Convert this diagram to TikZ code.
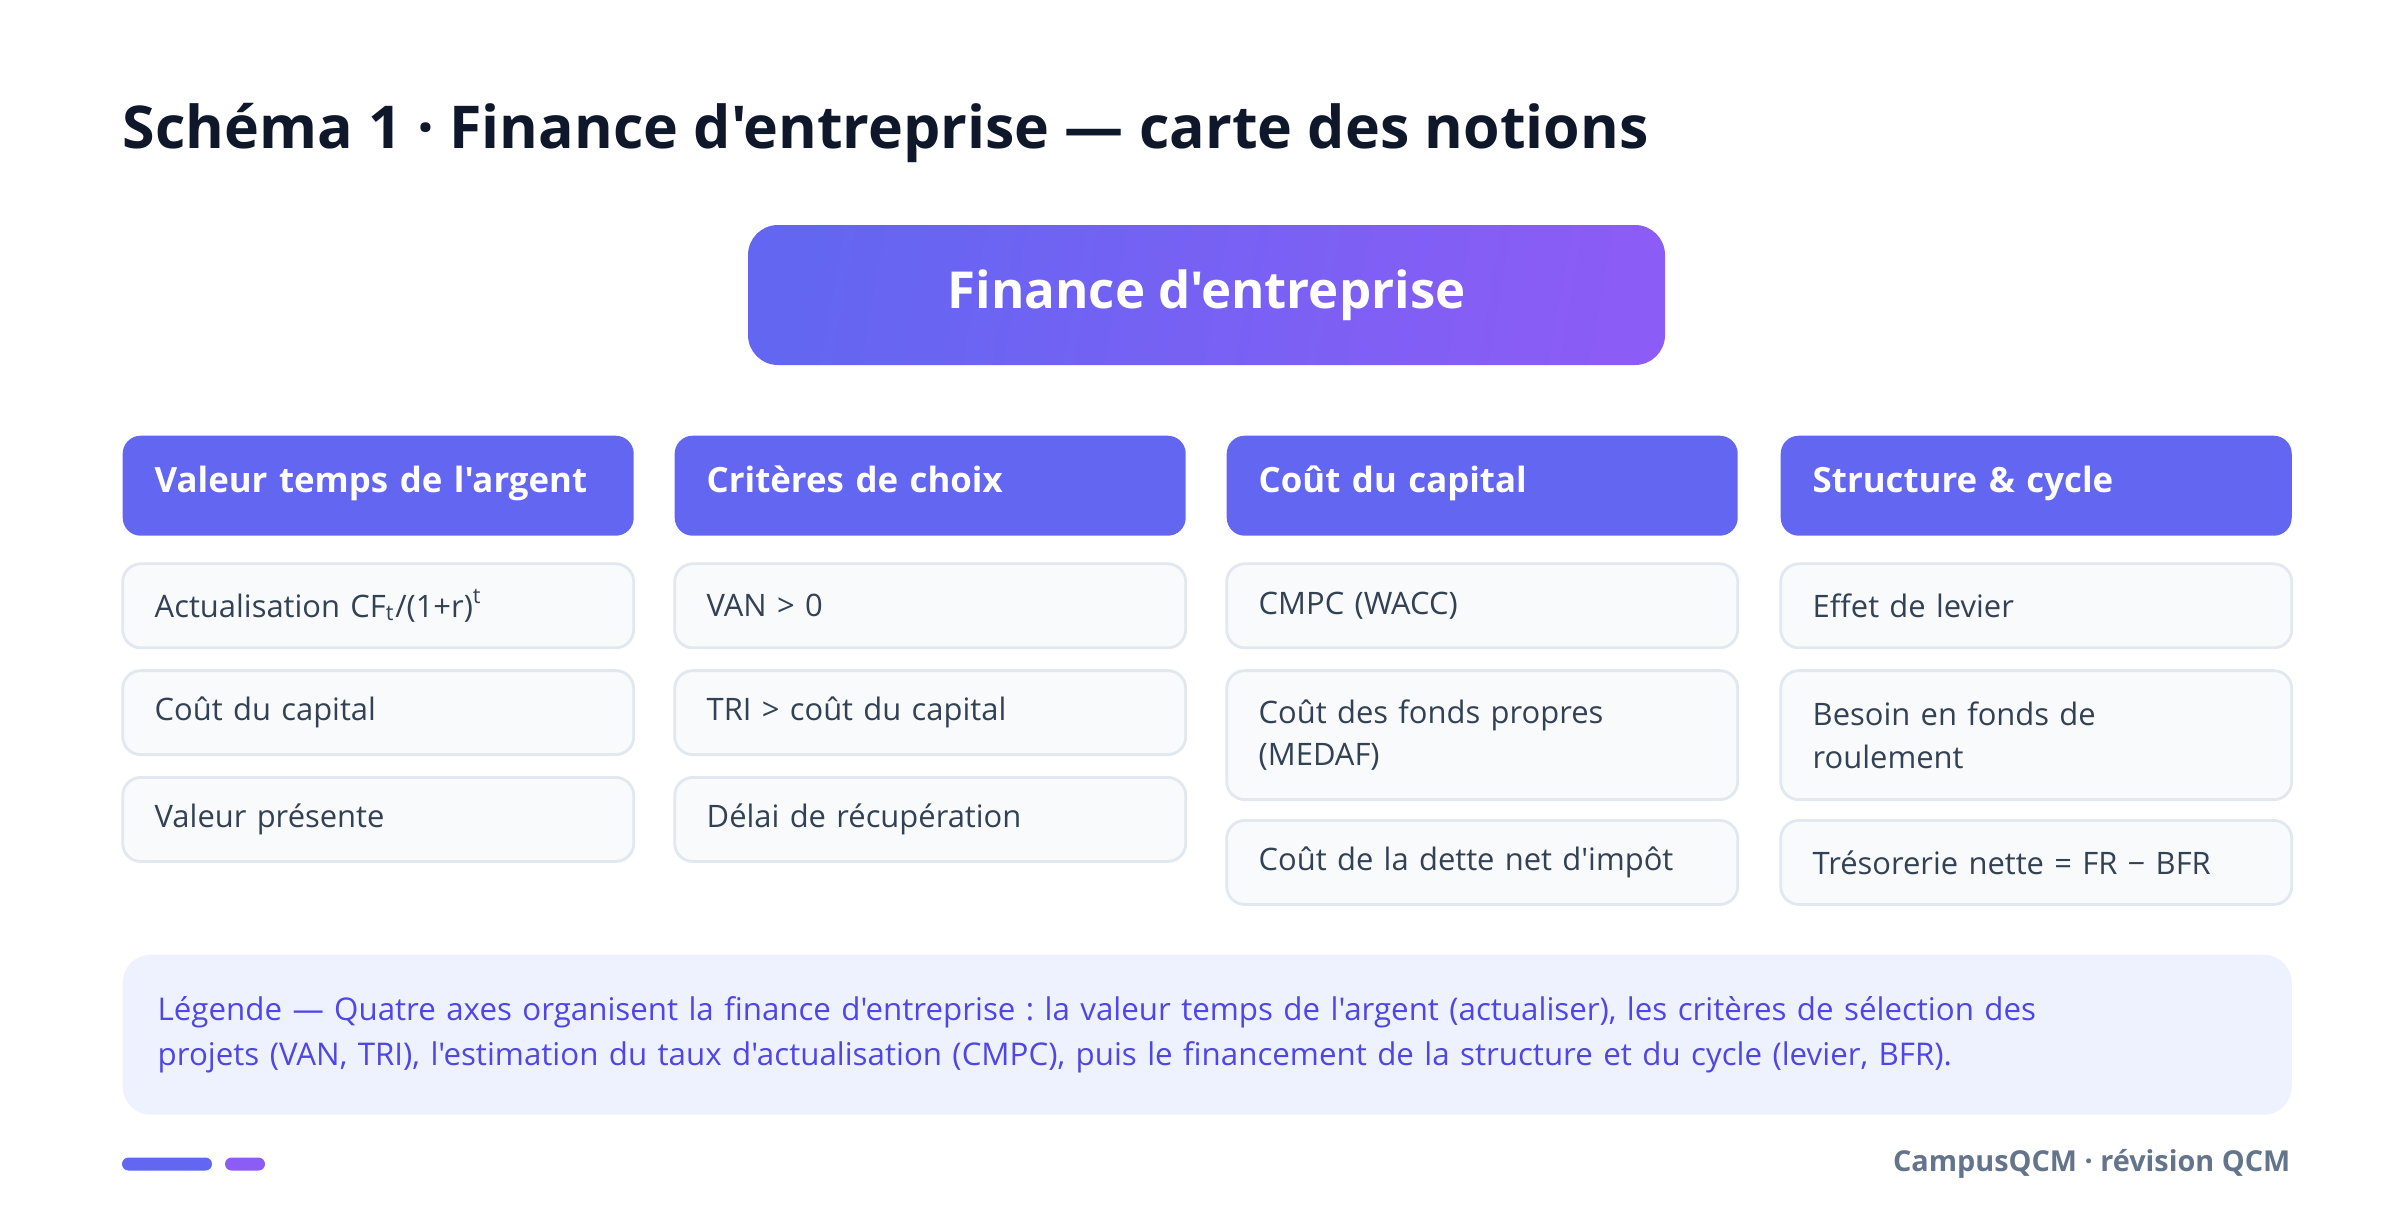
\documentclass[tikz,border=0pt]{standalone}
\usepackage{fontspec}
\setmainfont{Open Sans}[Ligatures=TeXOff]
\usetikzlibrary{positioning}

\definecolor{titleink}{HTML}{0F172A}
\definecolor{headblue}{HTML}{6366F1}
\definecolor{rootviolet}{HTML}{8B5CF6}
\definecolor{itemfill}{HTML}{F8FAFC}
\definecolor{itemline}{HTML}{E2E8F0}
\definecolor{itemtext}{HTML}{334155}
\definecolor{notefill}{HTML}{EEF2FF}
\definecolor{noteink}{HTML}{4F46E5}
\definecolor{footink}{HTML}{64748B}
\frenchspacing

\begin{document}
\begin{tikzpicture}[
    headbox/.style={fill=headblue, rounded corners=0.18cm, minimum width=5.11cm,
        minimum height=1.00cm, text width=4.47cm, inner xsep=0.32cm, align=left,
        text height=0.36cm, text depth=0.22cm,
        text=white, font=\fontsize{9.9}{12}\selectfont\bfseries},
    itembox/.style={fill=itemfill, draw=itemline, line width=0.8pt, rounded corners=0.18cm,
        minimum width=5.11cm, minimum height=0.84cm, text width=4.47cm, inner xsep=0.32cm,
        align=left, text=itemtext, font=\fontsize{8.8}{12.2}\selectfont},
    tallbox/.style={itembox, minimum height=1.29cm}]

    % canvas
    \useasboundingbox[fill=white] (0,0) rectangle (24,-12.18);

    % title
    \node[anchor=base west, inner sep=0, text=titleink, font=\fontsize{16.8}{20}\selectfont\bfseries]
        (title) at (1.22,-1.48) {Schéma 1 · Finance d'entreprise — carte des notions};

    % root
    \node[left color=headblue, right color=rootviolet, shading angle=80, rounded corners=0.3cm,
        minimum width=9.17cm, minimum height=1.40cm, text=white,
        font=\fontsize{14.5}{17}\selectfont\bfseries]
        (root) at (12.065,-2.95) {Finance d'entreprise};

    % column heads
    \node[headbox, anchor=north west] (tva) at (1.22,-4.35) {Valeur temps de l'argent};
    \node[headbox, anchor=north west] (crit) at (6.74,-4.35) {Critères de choix};
    \node[headbox, anchor=north west] (cout) at (12.26,-4.35) {Coût du capital};
    \node[headbox, anchor=north west] (struct) at (17.80,-4.35) {Structure \& cycle};

    % items
    \node[itembox, below=0.26cm of tva] (tva1) {Actualisation CF\textsubscript{t}/(1+r)\textsuperscript{t}};
    \node[itembox, below=0.20cm of tva1] (tva2) {Coût du capital};
    \node[itembox, below=0.20cm of tva2] (tva3) {Valeur présente};

    \node[itembox, below=0.26cm of crit] (crit1) {VAN > 0};
    \node[itembox, below=0.20cm of crit1] (crit2) {TRI > coût du capital};
    \node[itembox, below=0.20cm of crit2] (crit3) {Délai de récupération};

    \node[itembox, below=0.26cm of cout] (cout1) {CMPC (WACC)};
    \node[tallbox, below=0.20cm of cout1] (cout2) {Coût des fonds propres\\(MEDAF)};
    \node[itembox, below=0.18cm of cout2] (cout3) {Coût de la dette net d'impôt};

    \node[itembox, below=0.26cm of struct] (struct1) {Effet de levier};
    \node[tallbox, below=0.20cm of struct1] (struct2) {Besoin en fonds de\\roulement};
    \node[itembox, below=0.18cm of struct2] (struct3) {Trésorerie nette = FR − BFR};

    % legend
    \node[anchor=north west, fill=notefill, rounded corners=0.28cm, minimum width=21.69cm,
        minimum height=1.60cm, text width=20.99cm, inner xsep=0.35cm, align=left,
        text=noteink, font=\fontsize{8.9}{12.8}\selectfont]
        (note) at (1.22,-9.54) {Légende — Quatre axes organisent la finance d'entreprise : la valeur temps de l'argent (actualiser), les critères de sélection des\\projets (VAN, TRI), l'estimation du taux d'actualisation (CMPC), puis le financement de la structure et du cycle (levier, BFR).};

    % footer
    \fill[headblue, rounded corners=0.065cm] (1.22,-11.575) rectangle (2.12,-11.705);
    \fill[rootviolet, rounded corners=0.065cm] (2.25,-11.575) rectangle (2.65,-11.705);
    \node[anchor=east, inner sep=0, text=footink, font=\fontsize{8.2}{10}\selectfont\bfseries]
        (foot) at (22.91,-11.64) {CampusQCM · révision QCM};
\end{tikzpicture}
\end{document}
